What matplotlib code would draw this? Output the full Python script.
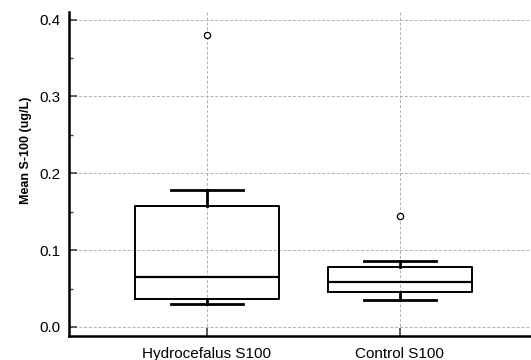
import matplotlib.pyplot as plt
from matplotlib.ticker import MultipleLocator

plt.rcParams['font.family'] = ['Liberation Sans', 'DejaVu Sans']

# box statistics
labels = ["Hydrocefalus S100", "Control S100"]
whislo = [0.030, 0.0356]
q1 = [0.0361, 0.046]
med = [0.0656, 0.059]
q3 = [0.1568, 0.078]
whishi = [0.1785, 0.086]
fliers = [[0.3796], [0.1446]]

stats = []
for i in range(len(labels)):
    stats.append(dict(label=labels[i], whislo=whislo[i], q1=q1[i], med=med[i],
                      q3=q3[i], whishi=whishi[i], fliers=fliers[i]))

fig = plt.figure(figsize=(5.31, 3.6), dpi=100)
ax = fig.add_axes([0.130, 0.0667, 0.870, 0.9003])

ax.bxp(stats, positions=[1, 2], widths=0.75, showfliers=True,
       boxprops=dict(color="black", linewidth=1.4),
       medianprops=dict(color="black", linewidth=1.6),
       whiskerprops=dict(color="black", linewidth=2.0),
       capprops=dict(color="black", linewidth=2.0),
       capwidths=0.375,
       flierprops=dict(marker="o", markerfacecolor="white", markeredgecolor="black",
                       markersize=4.5, markeredgewidth=0.9))

ax.set_xlim(0.285, 2.68)
ax.set_ylim(-0.0117, 0.41)
ax.yaxis.set_major_locator(MultipleLocator(0.1))
ax.yaxis.set_minor_locator(MultipleLocator(0.05))
ax.yaxis.set_major_formatter(plt.FormatStrFormatter("%.1f"))

ax.grid(True, which="major", color="#b0b0b0", linestyle=(0, (3, 2)), linewidth=0.7)
ax.set_axisbelow(True)

for s in ["top", "right"]:
    ax.spines[s].set_visible(False)
for s in ["left", "bottom"]:
    ax.spines[s].set_linewidth(1.8)

ax.tick_params(axis="y", which="major", direction="in", length=6, width=1.2,
               labelsize=11, color="#444444", pad=6)
ax.tick_params(axis="y", which="minor", direction="in", length=3, width=1, color="#444444")
ax.tick_params(axis="x", direction="in", length=6, width=1.2, labelsize=11,
               color="#444444", pad=8)

ax.set_ylabel("Mean S-100 (ug/L)", fontsize=9, fontweight="bold")
ax.yaxis.set_label_coords(-0.080, 0.574)

fig.savefig("out.png", dpi=100)
